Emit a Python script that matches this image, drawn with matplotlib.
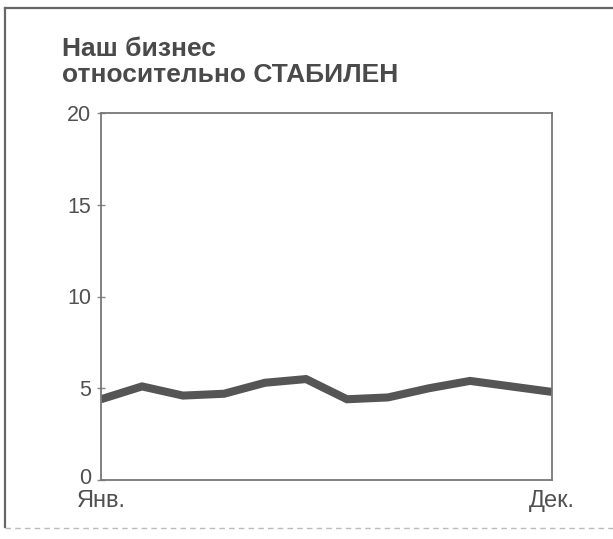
import matplotlib
matplotlib.use("Agg")
import matplotlib.pyplot as plt
import matplotlib.transforms as mtransforms
from matplotlib.lines import Line2D

months = list(range(12))
values = [4.4, 5.1, 4.6, 4.7, 5.3, 5.5, 4.4, 4.5, 5.0, 5.4, 5.1, 4.8]
yticks = [0, 5, 10, 15, 20]
xtick_pos = [0, 11]
xtick_labels = ["Янв.", "Дек."]
title_lines = "Наш бизнес\nотносительно СТАБИЛЕН"

plt.rcParams['font.family'] = ['Liberation Sans', 'DejaVu Sans']

fig = plt.figure(figsize=(6.13, 5.39), dpi=100)
fig.patch.set_facecolor('white')

ax = fig.add_axes([101/613, 1-480/539, (552-101)/613, (480-113)/539])
ax.plot(months, values, color='#555555', lw=5.8, solid_capstyle='butt', solid_joinstyle='miter')
ax.set_xlim(0, 11)
ax.set_ylim(0, 20)
ax.set_yticks(yticks)
ax.set_yticklabels([str(t) for t in yticks])
ax.set_xticks(xtick_pos)
ax.set_xticklabels(xtick_labels)
for s in ax.spines.values():
    s.set_color('#777777')
    s.set_linewidth(1.3)
ax.tick_params(axis='y', direction='inout', length=6, width=1, colors='#888888',
               labelcolor='#505050', labelsize=15.5, pad=4)
ax.tick_params(axis='x', length=0, labelcolor='#505050', labelsize=17, pad=7)

# nudge the "0" label upward a little, as in the reference
lbl0 = ax.get_yticklabels()[0]
lbl0.set_transform(lbl0.get_transform() + mtransforms.ScaledTranslation(0, 4/100, fig.dpi_scale_trans))

fig.text(62/613, 1-37/539, title_lines, ha='left', va='top', fontsize=19,
         fontweight='bold', color='#4a4a4a', linespacing=1.1)

# outer frame
fig.add_artist(Line2D([5/613, 5/613], [1-8/539, 1-527/539], transform=fig.transFigure,
                      color='#666666', lw=1.6))
fig.add_artist(Line2D([5/613, 1.0], [1-8/539, 1-8/539], transform=fig.transFigure,
                      color='#666666', lw=1.6))
fig.add_artist(Line2D([5/613, 1.0], [1-528/539, 1-528/539], transform=fig.transFigure,
                      color='#bbbbbb', lw=1.0, ls=(0, (4, 3))))

fig.savefig('out.png', dpi=100, facecolor='white')
